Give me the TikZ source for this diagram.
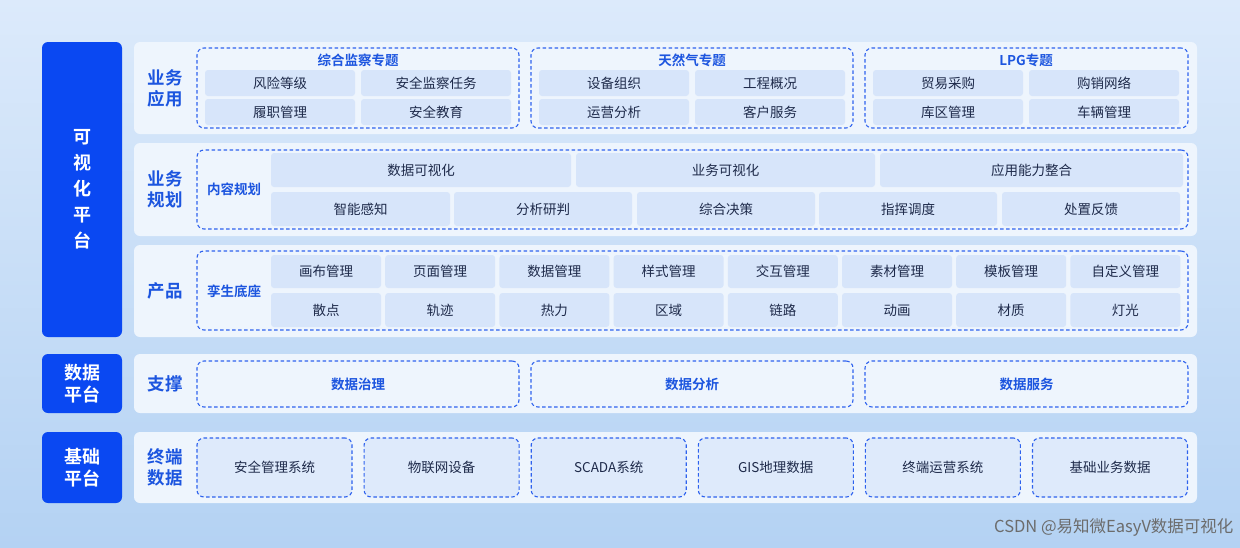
\documentclass[tikz,border=0pt]{standalone}
\usepackage{fontspec}
\setmainfont{Noto Sans CJK SC}
\newfontfamily\boldcjk{Noto Sans CJK SC Bold}
\definecolor{bgtop}{HTML}{DCEAFB}
\definecolor{bgbot}{HTML}{B4D2F3}
\definecolor{panel}{HTML}{EEF5FD}
\definecolor{cellc}{HTML}{D7E5FA}
\definecolor{blu}{HTML}{0A48F2}
\definecolor{txt}{HTML}{1E2A4A}
\definecolor{btxt}{HTML}{1C55DF}
\definecolor{dash}{HTML}{2E62EE}
\tikzset{
 x=1pt,y=-1pt,
 side/.style={fill=blu,rounded corners=6pt,text=white,font=\boldcjk\fontsize{18}{22}\selectfont,align=center},
 pan/.style={fill=panel,rounded corners=6pt},
 grp/.style={draw=dash,line width=1.1pt,rounded corners=7pt,dash pattern=on 3.5pt off 2.5pt},
 cell/.style={fill=cellc,rounded corners=3pt,text=txt,font=\fontsize{13.5}{16}\selectfont},
 rlab/.style={text=btxt,font=\boldcjk\fontsize{17.5}{21}\selectfont,align=center},
 slab/.style={text=btxt,font=\boldcjk\fontsize{13.5}{16}\selectfont},
}
\newcommand{\cellbox}[6]{\node[cell,minimum width=#4-#2,minimum height=#5-#3,inner sep=0pt] (#1) at ({(#2+#4)/2},{(#3+#5)/2}) {#6};}
\newcommand{\rect}[6]{\node[#1,minimum width=#4-#2,minimum height=#5-#3,inner sep=0pt] (#6) at ({(#2+#4)/2},{(#3+#5)/2}) {};}
\begin{document}
\begin{tikzpicture}
\shade[top color=bgtop,bottom color=bgbot] (0,0) rectangle (1240,547);
\useasboundingbox (0,0) rectangle (1240,547);
% side
\node[side,minimum width=80,minimum height=295,inner sep=0pt,font=\boldcjk\fontsize{18}{26}\selectfont] (vis) at (82,189.5) {可\\视\\化\\平\\台};
\node[side,minimum width=80,minimum height=59,inner sep=0pt] (dp) at (82,383.5) {数据\\平台};
\node[side,minimum width=80,minimum height=71,inner sep=0pt] (bp) at (82,467.5) {基础\\平台};
% panels
\rect{pan}{134}{42}{1197}{134}{p1}
\rect{pan}{134}{143}{1197}{236}{p2}
\rect{pan}{134}{245}{1197}{337}{p3}
\rect{pan}{134}{354}{1197}{413}{p4}
\rect{pan}{134}{432}{1197}{503}{p5}
\node[rlab] (l1) at (165,88) {业务\\应用};
\node[rlab] (l2) at (165,189) {业务\\规划};
\node[rlab] (l3) at (165,291) {产品};
\node[rlab] (l4) at (165,384) {支撑};
\node[rlab] (l5) at (165,467) {终端\\数据};
% row 1
\rect{grp}{197}{48}{519}{128}{g1}
\rect{grp}{531}{48}{853}{128}{g2}
\rect{grp}{865}{48}{1188}{128}{g3}
\node[slab] (t1) at (358,60) {综合监察专题};
\node[slab] (t2) at (692,60) {天然气专题};
\node[slab] (t3) at (1026,60) {LPG专题};
\cellbox{a1}{205}{70}{355}{96}{风险等级}
\cellbox{a2}{361}{70}{511}{96}{安全监察任务}
\cellbox{a3}{205}{99}{355}{125}{履职管理}
\cellbox{a4}{361}{99}{511}{125}{安全教育}
\cellbox{b1}{539}{70}{689}{96}{设备组织}
\cellbox{b2}{695}{70}{845}{96}{工程概况}
\cellbox{b3}{539}{99}{689}{125}{运营分析}
\cellbox{b4}{695}{99}{845}{125}{客户服务}
\cellbox{c1}{873}{70}{1023}{96}{贸易采购}
\cellbox{c2}{1029}{70}{1179}{96}{购销网络}
\cellbox{c3}{873}{99}{1023}{125}{库区管理}
\cellbox{c4}{1029}{99}{1179}{125}{车辆管理}
% row 2
\rect{grp}{197}{150}{1188}{229}{g4}
\node[slab] (nr) at (234,189) {内容规划};
\cellbox{d1}{271}{153}{571}{187}{数据可视化}
\cellbox{d2}{576}{153}{875}{187}{业务可视化}
\cellbox{d3}{880}{153}{1183}{187}{应用能力整合}
\cellbox{e1}{271}{192}{450}{226}{智能感知}
\cellbox{e2}{454}{192}{632}{226}{分析研判}
\cellbox{e3}{637}{192}{815}{226}{综合决策}
\cellbox{e4}{819}{192}{997}{226}{指挥调度}
\cellbox{e5}{1002}{192}{1180}{226}{处置反馈}
% row 3
\rect{grp}{197}{251}{1188}{330}{g5}
\node[slab] (ls) at (234,291) {孪生底座};
\foreach \t [count=\i] in {画布管理,页面管理,数据管理,样式管理,交互管理,素材管理,模板管理,自定义管理}{
  \pgfmathsetmacro\xa{271+(\i-1)*114.2}\pgfmathsetmacro\xb{\xa+110}
  \cellbox{f\i}{\xa}{255}{\xb}{288}{\t}}
\foreach \t [count=\i] in {散点,轨迹,热力,区域,链路,动画,材质,灯光}{
  \pgfmathsetmacro\xa{271+(\i-1)*114.2}\pgfmathsetmacro\xb{\xa+110}
  \cellbox{h\i}{\xa}{293}{\xb}{327}{\t}}
% row 4
\node[grp,slab,minimum width=322,minimum height=46,inner sep=0pt] (s1) at (358,384) {数据治理};
\node[grp,slab,minimum width=322,minimum height=46,inner sep=0pt] (s2) at (692,384) {数据分析};
\node[grp,slab,minimum width=323,minimum height=46,inner sep=0pt] (s3) at (1026.5,384) {数据服务};
% row 5
\foreach \t [count=\i] in {安全管理系统,物联网设备,SCADA系统,GIS地理数据,终端运营系统,基础业务数据}{
  \pgfmathsetmacro\xc{274.5+(\i-1)*167.1}
  \node[grp,fill=cellc!70!panel,text=txt,font=\fontsize{13.5}{16}\selectfont,minimum width=155,minimum height=59,inner sep=0pt] (k\i) at (\xc,467.5) {\t};}
\node[text=gray!85!black,font=\fontsize{16.5}{20}\selectfont,anchor=east] (wm) at (1237,527) {CSDN @易知微EasyV数据可视化};
\end{tikzpicture}
\end{document}
